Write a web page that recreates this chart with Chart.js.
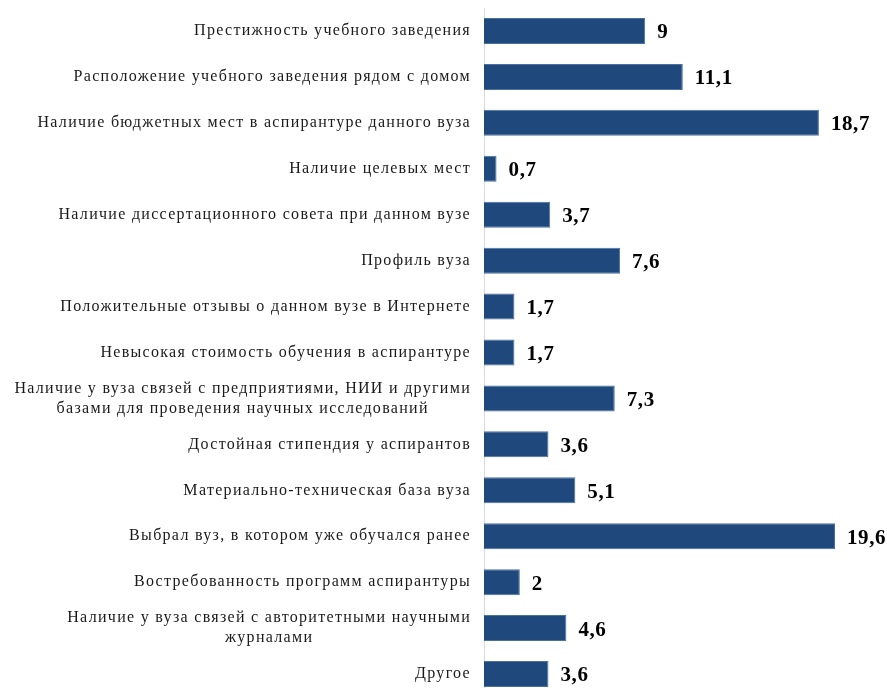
<!DOCTYPE html>
<html lang="ru">
<head>
<meta charset="utf-8">
<script src="https://cdn.jsdelivr.net/npm/chart.js@4"></script>
<style>
    html, body { margin: 0; padding: 0; background: #fff; overflow: hidden; }
    #wrap { position: relative; width: 887px; height: 697px; }
</style>
</head>
<body>
<div id="wrap"><canvas id="graficoMotivos"></canvas></div>
<script>
const categorias = [
    ['Престижность учебного заведения'],
    ['Расположение учебного заведения рядом с домом'],
    ['Наличие бюджетных мест в аспирантуре данного вуза'],
    ['Наличие целевых мест'],
    ['Наличие диссертационного совета при данном вузе'],
    ['Профиль вуза'],
    ['Положительные отзывы о данном вузе в Интернете'],
    ['Невысокая стоимость обучения в аспирантуре'],
    ['Наличие у вуза связей с предприятиями, НИИ и другими', 'базами для проведения научных исследований'],
    ['Достойная стипендия у аспирантов'],
    ['Материально-техническая база вуза'],
    ['Выбрал вуз, в котором уже обучался ранее'],
    ['Востребованность программ аспирантуры'],
    ['Наличие у вуза связей с авторитетными научными', 'журналами'],
    ['Другое']
];
const percentuais = [9, 11.1, 18.7, 0.7, 3.7, 7.6, 1.7, 1.7, 7.3, 3.6, 5.1, 19.6, 2, 4.6, 3.6];

const fonteRotulo = '16px "Liberation Serif", "Times New Roman", serif';
const fonteValor = 'bold 21px "Liberation Serif", "Times New Roman", serif';

// rótulos das categorias: alinhados à direita, linhas centralizadas entre si
const rotulosCategorias = {
    id: 'rotulosCategorias',
    afterDraw(chart) {
        const ctx = chart.ctx;
        const y = chart.scales.y;
        const direita = chart.chartArea.left - 13;
        const alturaLinha = 20;
        ctx.save();
        ctx.font = fonteRotulo;
        ctx.letterSpacing = '1.3px';
        ctx.fillStyle = '#1a1a1a';
        ctx.textAlign = 'center';
        ctx.textBaseline = 'middle';
        categorias.forEach((linhas, i) => {
            const centro = y.getPixelForValue(i);
            const largura = Math.max(...linhas.map(l => ctx.measureText(l).width));
            const x = direita - largura / 2;
            const inicio = centro - (linhas.length - 1) * alturaLinha / 2;
            linhas.forEach((l, j) => ctx.fillText(l, x, inicio + j * alturaLinha));
        });
        ctx.restore();
    }
};

// valores ao lado de cada barra
const valoresBarras = {
    id: 'valoresBarras',
    afterDatasetsDraw(chart) {
        const ctx = chart.ctx;
        const meta = chart.getDatasetMeta(0);
        ctx.save();
        ctx.font = fonteValor;
        ctx.letterSpacing = '0.6px';
        ctx.fillStyle = '#000';
        ctx.textAlign = 'left';
        ctx.textBaseline = 'middle';
        meta.data.forEach((barra, i) => {
            const texto = String(percentuais[i]).replace('.', ',');
            ctx.fillText(texto, barra.x + 12, barra.y + 2);
        });
        ctx.restore();
    }
};

new Chart(document.getElementById('graficoMotivos'), {
    type: 'bar',
    data: {
        labels: categorias.map(c => c.join(' ')),
        datasets: [{
            data: percentuais,
            backgroundColor: '#1F497D',
            borderColor: '#4A70A0',
            borderWidth: 1,
            categoryPercentage: 1,
            barPercentage: 0.566
        }]
    },
    options: {
        indexAxis: 'y',
        responsive: true,
        maintainAspectRatio: false,
        animation: false,
        layout: { padding: { top: 8, right: 9, bottom: 0, left: 0 } },
        plugins: {
            legend: { display: false },
            tooltip: { enabled: false }
        },
        scales: {
            x: {
                display: false,
                min: 0,
                max: 22
            },
            y: {
                grid: { display: false },
                border: { display: true, color: '#D9D9D9', width: 1 },
                ticks: { display: false },
                afterFit(scale) {
                    scale.width = 484;
                }
            }
        }
    },
    plugins: [rotulosCategorias, valoresBarras]
});
</script>
</body>
</html>
